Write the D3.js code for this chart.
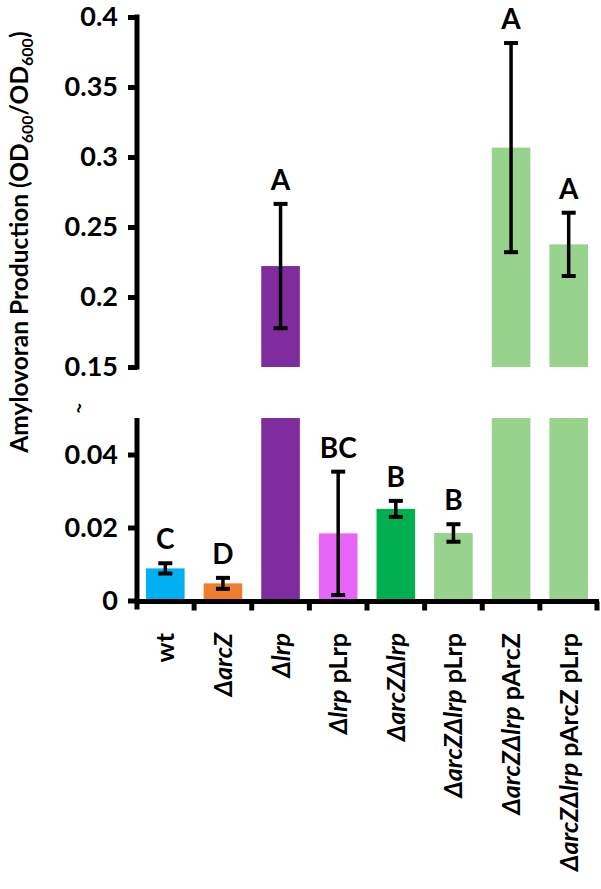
<!DOCTYPE html>
<html><head><meta charset="utf-8">
<script src="https://cdn.jsdelivr.net/npm/d3@7"></script>
<style>
html,body{margin:0;padding:0;background:#fff;}
text{font-family:Lato,"Open Sans",sans-serif;font-weight:bold;fill:#000;}
</style></head>
<body><svg id="c" width="601" height="889"></svg>
<script>
// ---- data ----
const categories = ["wt","ΔarcZ","Δlrp","Δlrp pLrp","ΔarcZΔlrp","ΔarcZΔlrp pLrp","ΔarcZΔlrp pArcZ","ΔarcZΔlrp pArcZ pLrp"];
const labelItalic = ["", "ΔarcZ", "Δlrp", "Δlrp", "ΔarcZΔlrp", "ΔarcZΔlrp", "ΔarcZΔlrp", "ΔarcZΔlrp"];
const labelPlain  = ["wt", "", "", " pLrp", "", " pLrp", " pArcZ", " pArcZ pLrp"];
const values = [0.0088, 0.0047, 0.2221, 0.0184, 0.0251, 0.0185, 0.3067, 0.2376];
const errors = [0.0014, 0.0015, 0.0444, 0.0169, 0.0022, 0.0024, 0.0747, 0.0226];
const letters = ["C","D","A","BC","B","B","A","A"];
const colors = ["#00B0F0","#F07D2E","#7F2C9F","#E866F7","#00B050","#97D38D","#97D38D","#97D38D"];
const topTicks = [0.15,0.2,0.25,0.3,0.35,0.4];
const bottomTicks = [0,0.02,0.04];
const topDomain = [0.15, 0.4];
const bottomDomain = [0, 0.05];

const svg = d3.select("#c");
const x = d3.scaleBand().domain(categories).range([136.5, 597.5]).paddingInner(0.33).paddingOuter(0.165);
const yTop = d3.scaleLinear().domain(topDomain).range([367, 17]);
const yBot = d3.scaleLinear().domain(bottomDomain).range([600.5, 418]);

const data = categories.map((c,i)=>({c, v:values[i], e:errors[i], l:letters[i], col:colors[i], i}));
// bars bottom panel
svg.append("g").selectAll("rect").data(data).join("rect")
  .attr("x", d=>x(d.c)).attr("width", x.bandwidth())
  .attr("y", d=>yBot(Math.min(d.v, bottomDomain[1])))
  .attr("height", d=>yBot(0)-yBot(Math.min(d.v, bottomDomain[1])))
  .attr("fill", d=>d.col);
// bars top panel
svg.append("g").selectAll("rect").data(data.filter(d=>d.v>topDomain[0])).join("rect")
  .attr("x", d=>x(d.c)).attr("width", x.bandwidth())
  .attr("y", d=>yTop(d.v))
  .attr("height", d=>yTop(topDomain[0])-yTop(d.v))
  .attr("fill", d=>d.col);

// error bars
const scaleFor = d => d.v > topDomain[0] ? yTop : yBot;
const eg = svg.append("g").attr("stroke","#000").attr("stroke-width",4);
data.forEach(d=>{
  const y = scaleFor(d), cx = x(d.c)+x.bandwidth()/2;
  const y1 = y(d.v+d.e), y2 = y(d.v-d.e);
  eg.append("line").attr("x1",cx).attr("x2",cx).attr("y1",y1).attr("y2",y2).attr("stroke-width",3.5);
  eg.append("line").attr("x1",cx-7).attr("x2",cx+7).attr("y1",y1).attr("y2",y1);
  eg.append("line").attr("x1",cx-7).attr("x2",cx+7).attr("y1",y2).attr("y2",y2);
});

// letters
svg.append("g").selectAll("text").data(data).join("text")
  .attr("x", d=>x(d.c)+x.bandwidth()/2)
  .attr("y", d=>scaleFor(d)(d.v+d.e)-14)
  .attr("text-anchor","middle").style("font-size","28px")
  .text(d=>d.l);

// axes
function styleAxis(g){
  g.select(".domain").remove();
  g.selectAll(".tick line").attr("stroke","#000").attr("stroke-width",5);
  g.selectAll(".tick text").style("font-size","27px").style("font-family","Lato,'Open Sans',sans-serif").style("font-weight","bold").attr("fill","#000");
}
const axL = 137;
const gTop = svg.append("g").attr("transform",`translate(${axL},0)`)
  .call(d3.axisLeft(yTop).tickValues(topTicks).tickSize(9).tickPadding(10).tickFormat(d3.format("~g")));
styleAxis(gTop);
gTop.append("line").attr("x1",0).attr("x2",0).attr("y1",yTop(topDomain[1])-2.5).attr("y2",yTop(topDomain[0])+2.5).attr("stroke","#000").attr("stroke-width",5);
const gBot = svg.append("g").attr("transform",`translate(${axL},0)`)
  .call(d3.axisLeft(yBot).tickValues(bottomTicks).tickSize(9).tickPadding(10).tickFormat(d3.format("~g")));
styleAxis(gBot);
gBot.append("line").attr("x1",0).attr("x2",0).attr("y1",yBot(bottomDomain[1])).attr("y2",yBot(0)+9).attr("stroke","#000").attr("stroke-width",5);

// x axis
const xAxisY = 601.5;
const gx = svg.append("g").attr("transform",`translate(0,${xAxisY})`);
gx.append("line").attr("x1",axL-2.5).attr("x2",599).attr("stroke","#000").attr("stroke-width",5);
const bounds = d3.range(categories.length+1).map(k=>x.range()[0]+k*x.step());
gx.selectAll("line.t").data(bounds.slice(1)).join("line").attr("class","t")
  .attr("x1",d=>Math.min(d,597)).attr("x2",d=>Math.min(d,597)).attr("y1",0).attr("y2",9)
  .attr("stroke","#000").attr("stroke-width",5);
gx.selectAll("text").data(data).join("text")
  .attr("transform", d=>`translate(${x(d.c)+x.bandwidth()/2+9},${633-xAxisY}) rotate(-90)`)
  .attr("text-anchor","end").style("font-size","25px")
  .each(function(d){
    const t = d3.select(this);
    if (labelItalic[d.i]) t.append("tspan").style("font-style","italic").text(labelItalic[d.i]);
    if (labelPlain[d.i]) t.append("tspan").attr("xml:space","preserve").text(labelPlain[d.i]);
  });

// break mark
svg.append("text").attr("transform","translate(84,410) rotate(-70)").attr("text-anchor","middle")
  .style("font-size","18px").text("~");

// y label
const yl = svg.append("text").attr("transform","translate(28,242) rotate(-90)")
  .attr("text-anchor","middle").style("font-size","24.5px");
yl.append("tspan").text("Amylovoran Production (OD");
yl.append("tspan").attr("dy",5).style("font-size","16px").text("600");
yl.append("tspan").attr("dy",-5).text("/OD");
yl.append("tspan").attr("dy",5).style("font-size","16px").text("600");
yl.append("tspan").attr("dy",-5).text(")");
</script></body></html>
